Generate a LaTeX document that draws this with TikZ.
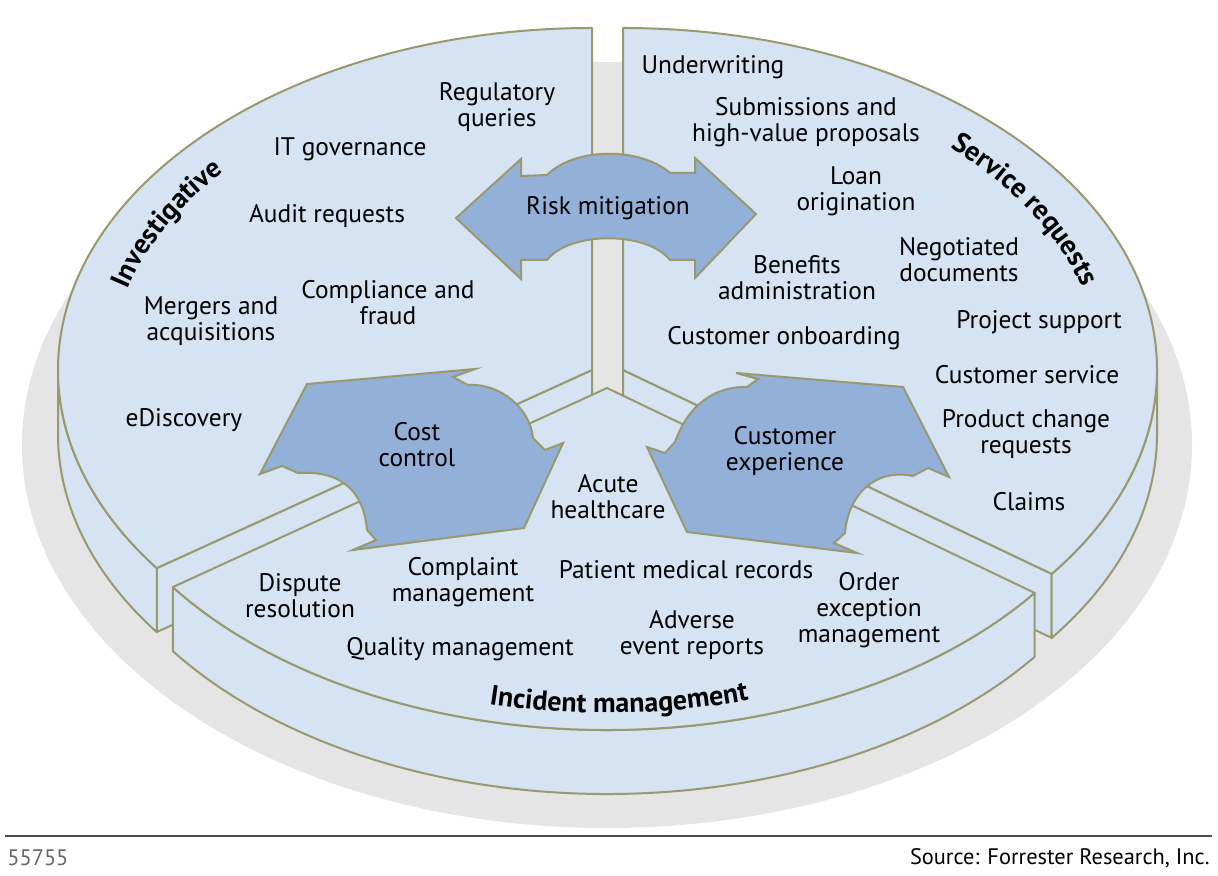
\documentclass[tikz,border=0pt]{standalone}
\usepackage{fontspec}
\setmainfont{PT Sans}
\usetikzlibrary{decorations.text}

\definecolor{facecol}{RGB}{213,227,242}
\definecolor{edgecol}{RGB}{153,153,112}
\definecolor{flowcol}{RGB}{146,176,216}
\definecolor{shadowcol}{RGB}{229,229,229}

\tikzset{
  face/.style={fill=facecol, draw=edgecol, line width=1pt, line join=round},
  flow/.style={fill=flowcol, draw=edgecol, line width=1pt, line join=miter},
  lbl/.style={align=center, inner sep=0pt, font=\fontsize{12.7}{13}\selectfont},
  foot/.style={inner sep=0pt, font=\fontsize{11.2}{13}\selectfont},
  arclbl/.style={decorate, decoration={text along path, text align=center,
    text={|\bfseries\fontsize{14}{14}\selectfont|#1}}}
}

\begin{document}
\begin{tikzpicture}[x=0.5pt,y=-0.5pt]
\useasboundingbox (0,0) rectangle (1218,876);

\fill[shadowcol] (607,445) ellipse [x radius=585, y radius=383];

\draw[face] (592,370) -- (156.7,568.1) -- (156.7,632.1) -- (592,434) -- cycle;
\draw[face] (623,370) -- (1051.7,573.9) -- (1051.7,637.9) -- (623,434) -- cycle;

\draw[face] (58,370) arc [start angle=180, end angle=144.6, x radius=534, y radius=342]
  -- ++(0,64) arc [start angle=144.6, end angle=180, x radius=534, y radius=342] -- cycle;
\draw[face] (592,370) -- (592,28) arc [start angle=270, end angle=144.6, x radius=534, y radius=342] -- cycle;

\draw[face] (1157,370) arc [start angle=0, end angle=36.6, x radius=534, y radius=342]
  -- ++(0,64) arc [start angle=36.6, end angle=0, x radius=534, y radius=342] -- cycle;
\draw[face] (623,370) -- (623,28) arc [start angle=270, end angle=396.6, x radius=534, y radius=342] -- cycle;

\draw[face] (172.8,587.1) arc [start angle=144.4, end angle=36.8, x radius=534, y radius=342]
  -- ++(0,64) arc [start angle=36.8, end angle=144.4, x radius=534, y radius=342] -- cycle;
\draw[face] (607,388) -- (172.8,587.1) arc [start angle=144.4, end angle=36.8, x radius=534, y radius=342] -- cycle;

\draw[flow] (456,218) -- (521,159) -- (521,176) -- (547,175)
  .. controls (575,147) and (640,147) .. (670,173) -- (695,173) -- (695,158) -- (756,214)
  -- (695,278) -- (695,260) -- (670,260) .. controls (647,231) and (570,231) .. (547,260)
  -- (521,260) -- (521,279) -- cycle;
\node[lbl] (risk) at (608,208) {Risk mitigation};

\draw[flow] (307,384) -- (475,369) -- (453,377) -- (468,385)
  .. controls (500,383) and (530,408) .. (533,438) -- (545,450) -- (563,443)
  -- (524,528) -- (353,550) -- (376,540) -- (367,530)
  .. controls (364,495) and (345,470) .. (298,473) -- (282,466) -- (260,474) -- cycle;
\node[lbl] (cost) at (417,445) {Cost\\control};

\draw[flow] (736,373) -- (903,387) -- (949,477) -- (928,468) -- (913,476)
  .. controls (875,468) and (848,495) .. (845,533) -- (834,543) -- (857,553)
  -- (687,532) -- (647,447) -- (665,453) -- (675,442)
  .. controls (688,405) and (715,386) .. (747,387) -- (758,379) -- cycle;
\node[lbl] (custexp) at (785,451) {Customer\\experience};

\foreach \nm/\px/\py/\txt in {
  regq/497/107/{Regulatory\\queries},
  itgov/350/149/{IT governance},
  audit/327/216/{Audit requests},
  merg/211/321/{Mergers and\\acquisitions},
  compl/388/303/{Compliance and\\fraud},
  edisc/184/420/{eDiscovery},
  underw/713/67/{Underwriting},
  subm/806/122/{Submissions and\\high-value proposals},
  loan/856/191/{Loan\\origination},
  negot/959/260/{Negotiated\\documents},
  benef/797/278/{Benefits\\administration},
  onboard/784/338/{Customer onboarding},
  proj/1039/322/{Project support},
  custserv/1027/375/{Customer service},
  prodch/1026/434/{Product change\\requests},
  claims/1029/502/{Claims},
  acute/608/497/{Acute\\healthcare},
  dispute/300/596/{Dispute\\resolution},
  complaint/463/582/{Complaint\\management},
  patient/686/570/{Patient medical records},
  order/869/610/{Order\\exception\\management},
  quality/460/649/{Quality management},
  adverse/692/635/{Adverse\\event reports}}
  \node[lbl] (\nm) at (\px,\py) {\txt};

\path[arclbl=Investigative] ({592+481*cos(181)},{370+308*sin(181)})
  arc [start angle=181, end angle=231, x radius=481, y radius=308];
\path[arclbl=Service requests] ({623+477*cos(-59)},{370+305*sin(-59)})
  arc [start angle=-59, end angle=1, x radius=477, y radius=305];
\path[arclbl=Incident management] ({607+507*cos(118.5)},{388+325*sin(118.5)})
  arc [start angle=118.5, end angle=58.5, x radius=507, y radius=325];

\draw[black!70, line width=0.8pt] (5,836) -- (1212,836);
\node[foot, anchor=west, text=black!60] (fig) at (7,858) {55755};
\node[foot, anchor=east] (src) at (1210,858) {Source: Forrester Research, Inc.};
\end{tikzpicture}
\end{document}
